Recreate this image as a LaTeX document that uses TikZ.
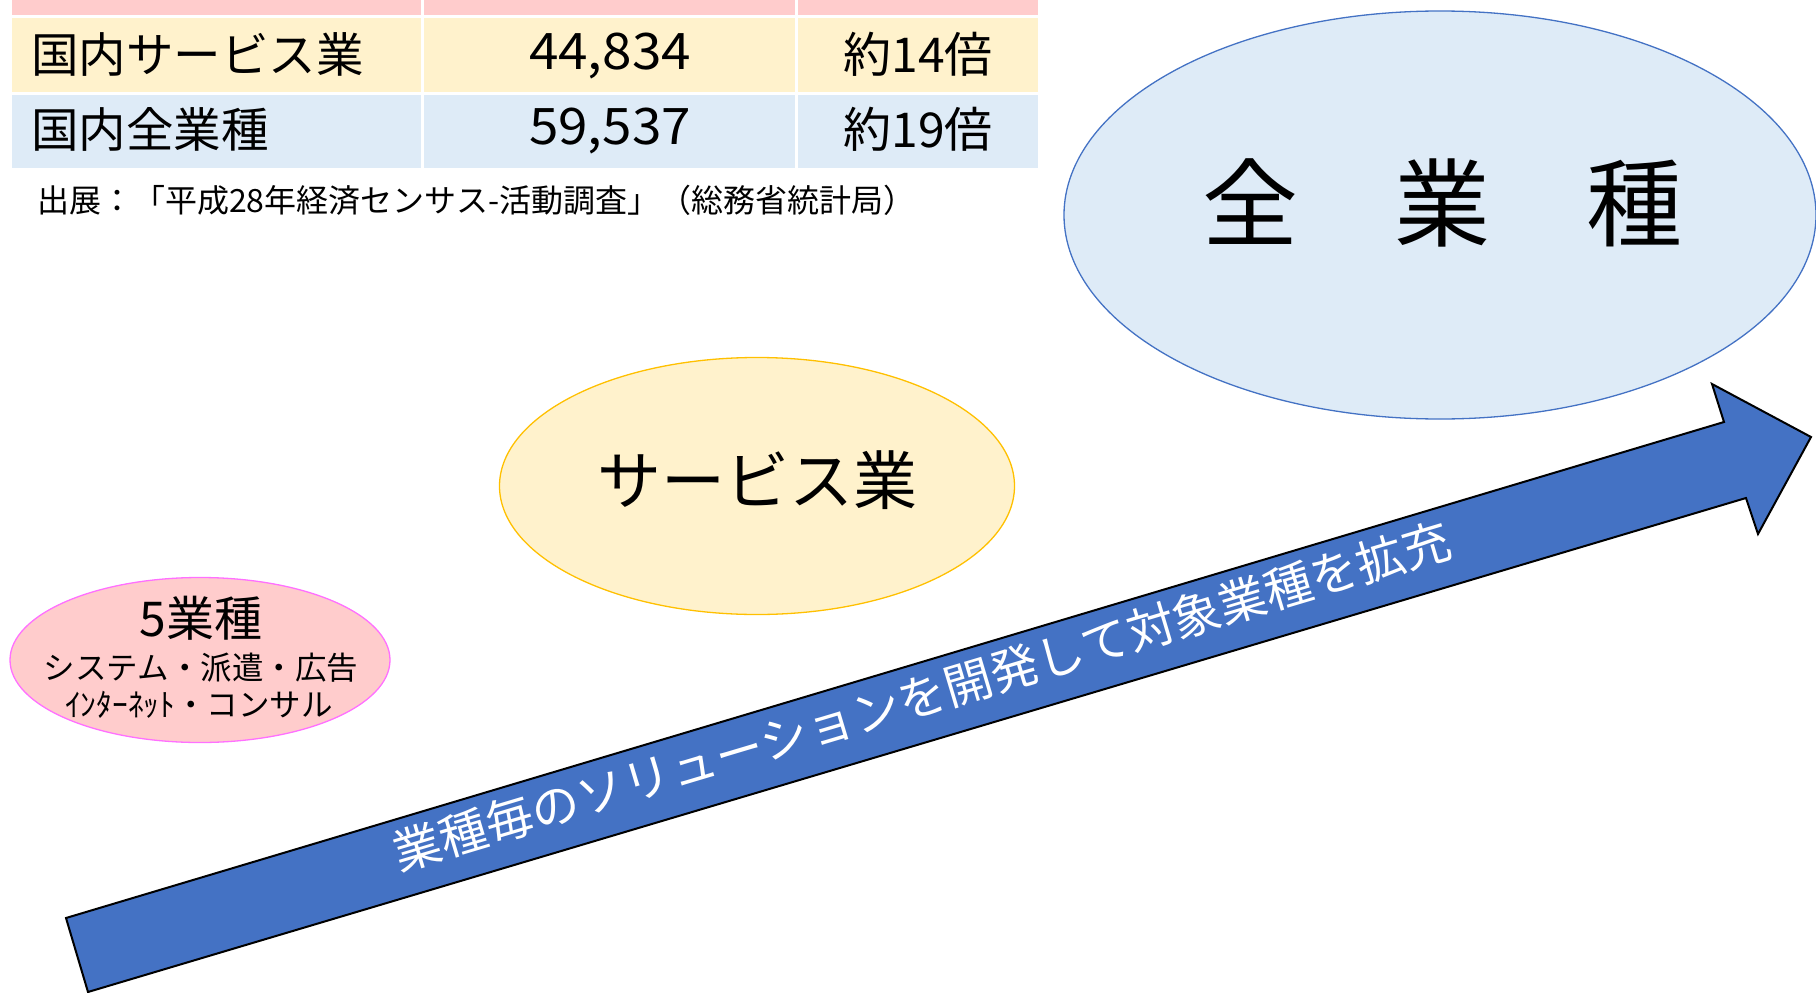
\documentclass[tikz,border=0pt]{standalone}
\usepackage{fontspec}
\setmainfont{Noto Sans CJK JP}
\usetikzlibrary{shapes.geometric}
\definecolor{pinkrow}{HTML}{FFCCCC}
\definecolor{yellowrow}{HTML}{FFF2CC}
\definecolor{bluerow}{HTML}{DEEBF7}
\definecolor{arrowblue}{HTML}{4472C4}
\definecolor{goldline}{HTML}{FFC000}
\definecolor{magline}{HTML}{FF70FF}
\begin{document}
\begin{tikzpicture}[x=1pt,y=-1pt,
  txt/.style={inner sep=0pt, text=black},
  bubble/.style={ellipse, inner sep=0pt, line width=1.3pt},
  fs/.style={font=\fontsize{#1}{#1}\selectfont}]
\useasboundingbox (0,0) rectangle (1816,993);
% table
\fill[pinkrow] (12,0) rectangle (421,15);
\fill[pinkrow] (424,0) rectangle (795,15);
\fill[pinkrow] (798,0) rectangle (1038,15);
\fill[yellowrow] (12,18) rectangle (421,92);
\fill[yellowrow] (424,18) rectangle (795,92);
\fill[yellowrow] (798,18) rectangle (1038,92);
\fill[bluerow] (12,95) rectangle (421,168);
\fill[bluerow] (424,95) rectangle (795,168);
\fill[bluerow] (798,95) rectangle (1038,168);
\node[txt, fs=47.5, anchor=west] (r1c1) at (31,54) {国内サービス業};
\node[txt, fs=53, yscale=0.95] (r1c2) at (610,56) {44,834};
\node[txt, fs=48] (r1c3) at (918,54) {約14倍};
\node[txt, fs=47.5, anchor=west] (r2c1) at (31,129) {国内全業種};
\node[txt, fs=53, yscale=0.95] (r2c2) at (610,131) {59,537};
\node[txt, fs=48] (r2c3) at (918,129) {約19倍};
\node[txt, fs=32, anchor=west] (src) at (37,200) {出展：「平成28年経済センサス-活動調査」（総務省統計局）};
% ellipses
\node[bubble, draw=arrowblue, fill=bluerow, minimum width=752pt, minimum height=408pt] (allE) at (1440,215) {};
\node[txt, fs=96] (allT) at (1442,203) {全　業　種};
\node[bubble, draw=goldline, fill=yellowrow, minimum width=515pt, minimum height=257pt] (svcE) at (757,486) {};
\node[txt, fs=64] (svcT) at (757,480) {サービス業};
\node[bubble, draw=magline, fill=pinkrow, minimum width=380pt, minimum height=165pt] (fiveE) at (200,660) {};
\node[txt, fs=48] (fiveT) at (201,618) {5業種};
\node[txt, fs=31.5] (fiveA) at (201,668) {システム・派遣・広告};
\node[txt, fs=31.5] (fiveB) at (199,705) {ｲﾝﾀｰﾈｯﾄ・コンサル};
% arrow
\coordinate (T1) at (66,918);
\coordinate (S1) at (1724,422);
\coordinate (B1) at (1712,384);
\coordinate (Tip) at (1811,437);
\coordinate (B2) at (1758,534);
\coordinate (S2) at (1746,498);
\coordinate (T2) at (88,992);
\draw[fill=arrowblue, draw=black, line width=2pt, line join=miter] (T1) -- (S1) -- (B1) -- (Tip) -- (B2) -- (S2) -- (T2) -- cycle;
\node[txt, text=white, fs=48, rotate=16.65] (arrT) at (922,696) {業種毎のソリューションを開発して対象業種を拡充};
\end{tikzpicture}
\end{document}
